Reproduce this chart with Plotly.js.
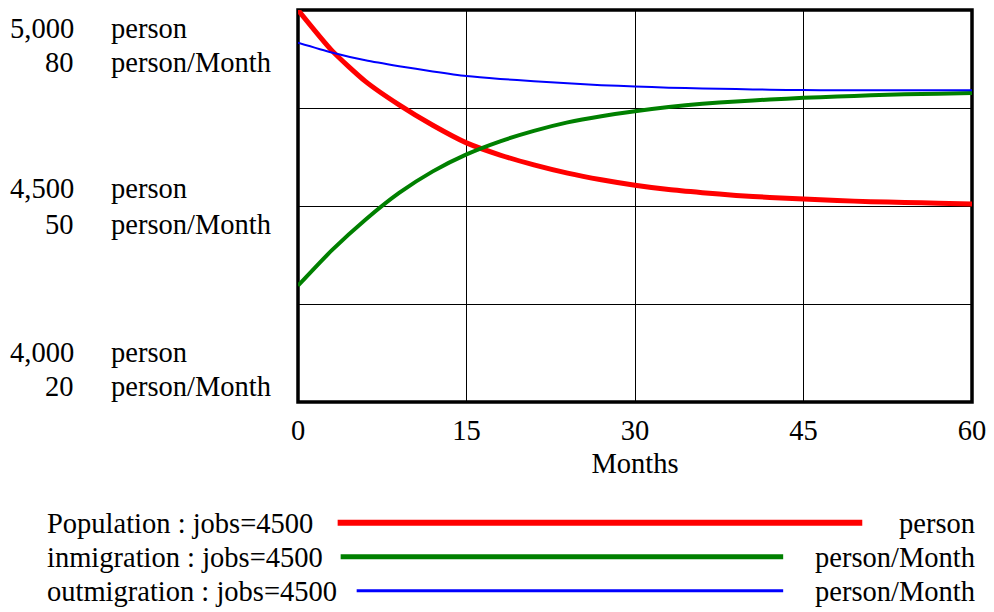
<!DOCTYPE html>
<html>
<head>
<meta charset="utf-8">
<script src="https://cdn.plot.ly/plotly-3.0.1.min.js"></script>
<style>html,body{margin:0;padding:0;background:#fff;}#chart{width:994px;height:612px;}</style>
</head>
<body>
<div id="chart"></div>
<script>
// ---- data ----
const months = [0, 3, 6, 9, 12, 15, 18, 21, 24, 27, 30, 33, 36, 39, 42, 45, 48, 51, 54, 57, 60];
const population = [5000, 4897, 4818, 4758, 4706, 4661, 4630, 4605, 4584, 4567, 4553, 4542, 4534, 4527, 4522, 4518, 4514, 4511, 4509, 4507, 4505];
const inmigration = [37.8, 43.2, 47.9, 52.0, 55.3, 57.9, 59.9, 61.5, 62.8, 63.75, 64.5, 65.15, 65.65, 66.0, 66.3, 66.55, 66.75, 66.95, 67.1, 67.2, 67.3];
const outmigration = [75.0, 73.5, 72.3, 71.4, 70.6, 69.9, 69.45, 69.1, 68.8, 68.5, 68.3, 68.1, 68.0, 67.9, 67.8, 67.75, 67.72, 67.7, 67.7, 67.7, 67.7];
const xTicks = [0, 15, 30, 45, 60];
const popTicks = [5000, 4500, 4000];
const rateTicks = [80, 50, 20];
const popUnit = 'person';
const rateUnit = 'person/Month';
const seriesNames = ['Population : jobs=4500', 'inmigration : jobs=4500', 'outmigration : jobs=4500'];
const seriesUnits = [popUnit, rateUnit, rateUnit];
const xTitle = 'Months';

// ---- presentation ----
const FONT = 'Liberation Serif, Times New Roman, serif';
const FS = 28.5;
const colors = ['#ff0000', '#008000', '#0000ff'];
const widths = [5, 4, 2];
const L = 298.4, R = 971.6, T = 10.3, B = 402.3;
const px2x = p => (p - L) / (R - L);
const px2y = p => (B - p) / (B - T);

const traces = [
  {x: months, y: population, yaxis: 'y', name: seriesNames[0], mode: 'lines',
   line: {color: colors[0], width: widths[0], shape: 'spline', smoothing: 0.6}},
  {x: months, y: inmigration, yaxis: 'y2', name: seriesNames[1], mode: 'lines',
   line: {color: colors[1], width: widths[1], shape: 'spline', smoothing: 0.6}},
  {x: months, y: outmigration, yaxis: 'y2', name: seriesNames[2], mode: 'lines',
   line: {color: colors[2], width: widths[2], shape: 'spline', smoothing: 0.6}}
];

const annotations = [];
const shapes = [];
// left axis labels (two stacked scales)
const popShift = [-18, 18, 50];
const rateShift = [-52, -18, 16];
popTicks.forEach((v, i) => {
  annotations.push({xref: 'paper', yref: 'y', x: px2x(77), y: v, yshift: popShift[i],
    xanchor: 'right', yanchor: 'middle', showarrow: false,
    text: v.toLocaleString('en-US'), font: {family: FONT, size: FS, color: '#000'}});
  annotations.push({xref: 'paper', yref: 'y', x: px2x(110), y: v, yshift: popShift[i],
    xanchor: 'left', yanchor: 'middle', showarrow: false,
    text: popUnit, font: {family: FONT, size: FS, color: '#000'}});
});
rateTicks.forEach((v, i) => {
  annotations.push({xref: 'paper', yref: 'y2', x: px2x(77), y: v, yshift: rateShift[i],
    xanchor: 'right', yanchor: 'middle', showarrow: false,
    text: String(v), font: {family: FONT, size: FS, color: '#000'}});
  annotations.push({xref: 'paper', yref: 'y2', x: px2x(110), y: v, yshift: rateShift[i],
    xanchor: 'left', yanchor: 'middle', showarrow: false,
    text: rateUnit, font: {family: FONT, size: FS, color: '#000'}});
});

// custom legend
const legY = [524, 558, 592];
const legX0 = [338, 341, 357];
const legX1 = [862, 783, 783];
seriesNames.forEach((n, i) => {
  annotations.push({xref: 'paper', yref: 'paper', x: px2x(46), y: px2y(legY[i]),
    xanchor: 'left', yanchor: 'middle', showarrow: false, text: n,
    font: {family: FONT, size: FS, color: '#000'}});
  annotations.push({xref: 'paper', yref: 'paper', x: px2x(977), y: px2y(legY[i]),
    xanchor: 'right', yanchor: 'middle', showarrow: false, text: seriesUnits[i],
    font: {family: FONT, size: FS, color: '#000'}});
  shapes.push({type: 'line', xref: 'paper', yref: 'paper',
    x0: px2x(legX0[i]), x1: px2x(legX1[i]), y0: px2y(legY[i] - 1), y1: px2y(legY[i] - 1),
    line: {color: colors[i], width: widths[i] + 1}});
});
// frame
shapes.push({type: 'rect', xref: 'paper', yref: 'paper', x0: 0, x1: 1, y0: 0, y1: 1,
  line: {color: '#000', width: 3.5}, layer: 'below'});

const layout = {
  width: 994, height: 612,
  margin: {l: L, r: 994 - R, t: T, b: 612 - B, pad: 0},
  paper_bgcolor: '#fff', plot_bgcolor: '#fff',
  showlegend: false,
  font: {family: FONT, size: FS, color: '#000'},
  xaxis: {range: [0, 60], tickvals: xTicks, ticktext: xTicks.map(String), ticks: '',
    showgrid: true, gridcolor: '#000', gridwidth: 1, zeroline: false, showline: false,
    ticklabelstandoff: 8, tickfont: {family: FONT, size: FS, color: '#000'},
    title: {text: xTitle, standoff: 8, font: {family: FONT, size: FS, color: '#000'}}},
  yaxis: {range: [4000, 5000], tickvals: [4250, 4500, 4750], showticklabels: false, ticks: '',
    showgrid: true, gridcolor: '#000', gridwidth: 1, zeroline: false, showline: false},
  yaxis2: {range: [20, 80], overlaying: 'y', showgrid: false, showticklabels: false,
    ticks: '', zeroline: false, showline: false},
  annotations: annotations,
  shapes: shapes
};

Plotly.newPlot('chart', traces, layout, {displayModeBar: false, staticPlot: true});
</script>
</body>
</html>
